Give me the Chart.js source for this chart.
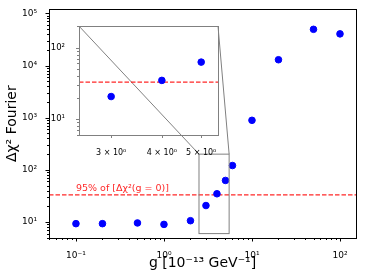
<!DOCTYPE html>
<html>
<head>
<meta charset="utf-8">
<script src="https://cdn.jsdelivr.net/npm/chart.js@4/dist/chart.umd.min.js"></script>
<style>
  html, body { margin: 0; padding: 0; background: #fff; }
  #wrap { position: relative; width: 366px; height: 280px; }
  #wrap canvas { position: absolute; }
</style>
</head>
<body>
<div id="wrap">
  <canvas id="main" width="366" height="280" style="left:0;top:0"></canvas>
  <canvas id="inset" width="180" height="145" style="left:45px;top:15px"></canvas>
</div>
<script>
// data
const gValues = [0.1, 0.2, 0.5, 1, 2, 3, 4, 5, 6, 10, 20, 50, 100];
const chi2Values = [9.3, 9.3, 9.6, 9.0, 10.6, 20.7, 34.8, 62.7, 121, 890, 12900, 49400, 40400];
const threshold = 33;
const thresholdLabel = '95% of [Δχ²(g = 0)]';

// main axes
const mainXRange = [0.0494, 152];
const mainYRange = [4.94, 1.19e5];
const mainXTicks = [0.1, 1, 10, 100];
const mainXTickLabels = ['10⁻¹', '10⁰', '10¹', '10²'];
const mainYTicks = [10, 100, 1000, 10000, 100000];
const mainYTickLabels = ['10¹', '10²', '10³', '10⁴', '10⁵'];

// inset axes (zoom region)
const insetXRange = [2.5, 5.5];
const insetYRange = [6, 200];
const insetXTicks = [3, 4, 5];
const insetXTickLabels = ['3 × 10⁰', '4 × 10⁰', '5 × 10⁰'];
const insetYTicks = [10, 100];
const insetYTickLabels = ['10¹', '10²'];

const FONT = 'DejaVu Sans';
const points = gValues.map((g, i) => ({ x: g, y: chi2Values[i] }));

// minor tick positions of a log axis
function logMinor(min, max) {
  const out = [];
  for (let e = Math.floor(Math.log10(min)); e <= Math.ceil(Math.log10(max)); e++) {
    for (let m = 2; m <= 9; m++) {
      const v = m * Math.pow(10, e);
      if (v >= min && v <= max) out.push(v);
    }
  }
  return out;
}

// matplotlib-like frame, outward ticks, threshold line
const axesDecor = {
  id: 'axesDecor',
  beforeDatasetsDraw(chart, args, opts) {
    const { ctx, chartArea: a, scales: { y } } = chart;
    const yp = y.getPixelForValue(threshold);
    ctx.save();
    ctx.beginPath();
    ctx.rect(a.left, a.top, a.right - a.left, a.bottom - a.top);
    ctx.clip();
    ctx.strokeStyle = 'rgba(255,0,0,0.85)';
    ctx.lineWidth = 1.3;
    ctx.setLineDash([4.5, 2]);
    ctx.beginPath();
    ctx.moveTo(a.left, yp);
    ctx.lineTo(a.right, yp);
    ctx.stroke();
    ctx.restore();
  },
  afterDraw(chart, args, opts) {
    const { ctx, chartArea: a, scales: { x, y } } = chart;
    const r = v => Math.round(v) + 0.5;
    ctx.save();
    ctx.strokeStyle = opts.color;
    ctx.lineWidth = 1;
    ctx.beginPath();
    x.ticks.forEach(t => { const p = r(x.getPixelForValue(t.value)); ctx.moveTo(p, a.bottom); ctx.lineTo(p, a.bottom + opts.major); });
    opts.minorX.forEach(v => { const p = r(x.getPixelForValue(v)); ctx.moveTo(p, a.bottom); ctx.lineTo(p, a.bottom + opts.minor); });
    y.ticks.forEach(t => { const p = r(y.getPixelForValue(t.value)); ctx.moveTo(a.left, p); ctx.lineTo(a.left - opts.major, p); });
    opts.minorY.forEach(v => { const p = r(y.getPixelForValue(v)); ctx.moveTo(a.left, p); ctx.lineTo(a.left - opts.minor, p); });
    ctx.stroke();
    ctx.strokeRect(r(a.left), r(a.top), Math.round(a.right - a.left), Math.round(a.bottom - a.top));
    ctx.restore();
  }
};

// zoom box, connectors and threshold label on the main axes
const zoomMark = {
  id: 'zoomMark',
  afterDraw(chart) {
    const { ctx, scales: { x, y } } = chart;
    const x0 = x.getPixelForValue(insetXRange[0]), x1 = x.getPixelForValue(insetXRange[1]);
    const y0 = y.getPixelForValue(insetYRange[1]), y1 = y.getPixelForValue(insetYRange[0]);
    ctx.save();
    ctx.strokeStyle = '#808080';
    ctx.lineWidth = 1;
    ctx.strokeRect(x0, y0, x1 - x0, y1 - y0);
    const ia = insetChart.chartArea;
    const cv = insetChart.canvas;
    const ox = cv.offsetLeft, oy = cv.offsetTop;
    ctx.beginPath();
    ctx.moveTo(ox + ia.left, oy + ia.top);
    ctx.lineTo(x0, y0);
    ctx.moveTo(ox + ia.right, oy + ia.top);
    ctx.lineTo(x1, y0);
    ctx.stroke();
    ctx.fillStyle = 'rgba(255,0,0,0.85)';
    ctx.font = '9.5px "' + FONT + '"';
    ctx.textBaseline = 'alphabetic';
    ctx.fillText(thresholdLabel, x.getPixelForValue(mainXTicks[0]), y.getPixelForValue(threshold) - 4);
    ctx.restore();
  }
};

function logAxis(range, ticks, labels, fontSize, pad, fit) {
  return {
    type: 'logarithmic',
    min: range[0],
    max: range[1],
    grid: { display: false },
    border: { display: false },
    afterBuildTicks: s => { s.ticks = ticks.map(v => ({ value: v })); },
    ticks: {
      callback: v => labels[ticks.indexOf(v)] || '',
      font: { family: FONT, size: fontSize },
      color: '#000',
      padding: pad,
      maxRotation: 0,
      autoSkip: false
    },
    afterFit: fit
  };
}

// inset first, so its chart area is known when the main chart draws
const insetChart = new Chart(document.getElementById('inset'), {
  type: 'scatter',
  data: {
    datasets: [{
      data: points,
      backgroundColor: '#0000ff',
      borderColor: '#0000ff',
      pointRadius: 3.3,
      pointHoverRadius: 3.3
    }]
  },
  options: {
    responsive: false,
    animation: false,
    events: [],
    layout: { padding: { top: 6, right: 7, left: 0, bottom: 0 } },
    plugins: {
      legend: { display: false },
      tooltip: { enabled: false },
      axesDecor: {
        color: '#808080', major: 3, minor: 2,
        minorX: [],
        minorY: logMinor(insetYRange[0], insetYRange[1])
      }
    },
    scales: {
      x: logAxis(insetXRange, insetXTicks, insetXTickLabels, 8, 5, s => { s.height = 25; }),
      y: logAxis(insetYRange, insetYTicks, insetYTickLabels, 8.5, 6, s => { s.width = 34; })
    }
  },
  plugins: [axesDecor]
});

const mainX = logAxis(mainXRange, mainXTicks, mainXTickLabels, 9, 4, s => { s.height = 42; });
mainX.title = { display: true, text: 'g [10⁻¹³ GeV⁻¹]', color: '#000', font: { family: FONT, size: 14 }, padding: { top: 0, bottom: 8 } };
const mainY = logAxis(mainYRange, mainYTicks, mainYTickLabels, 9, 4, s => { s.width = 49; });
mainY.title = { display: true, text: 'Δχ² Fourier', color: '#000', font: { family: FONT, size: 14 }, padding: { top: 4, bottom: 0 } };

new Chart(document.getElementById('main'), {
  type: 'scatter',
  data: {
    datasets: [{
      data: points,
      backgroundColor: '#0000ff',
      borderColor: '#0000ff',
      pointRadius: 3.3,
      pointHoverRadius: 3.3
    }]
  },
  options: {
    responsive: false,
    animation: false,
    events: [],
    layout: { padding: { top: 9, right: 10, left: 0, bottom: 0 } },
    plugins: {
      legend: { display: false },
      tooltip: { enabled: false },
      axesDecor: {
        color: '#000', major: 3.5, minor: 2,
        minorX: logMinor(mainXRange[0], mainXRange[1]),
        minorY: logMinor(mainYRange[0], mainYRange[1])
      }
    },
    scales: { x: mainX, y: mainY }
  },
  plugins: [axesDecor, zoomMark]
});
</script>
</body>
</html>
